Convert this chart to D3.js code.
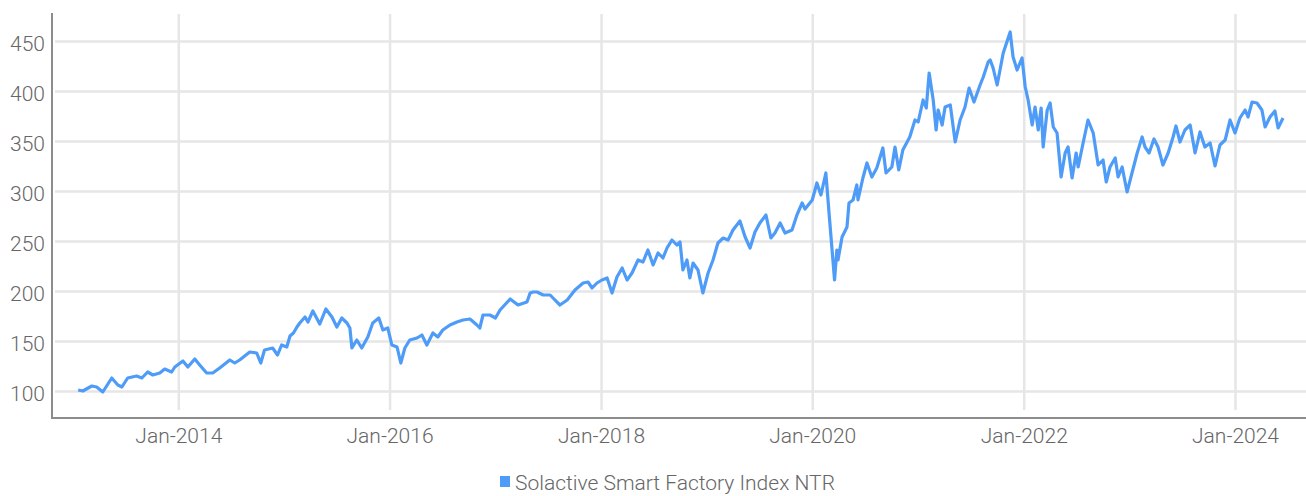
<!DOCTYPE html>
<html>
<head>
<meta charset="utf-8">
<script src="https://cdn.jsdelivr.net/npm/d3@7"></script>
<style>
  body { margin: 0; background: #fff; }
  text { font-family: Roboto, sans-serif; font-weight: 300; fill: #666; }
</style>
</head>
<body>
<div id="chart"></div>
<script>
const seriesName = 'Solactive Smart Factory Index NTR';
const yTicks = [100, 150, 200, 250, 300, 350, 400, 450];
const xTickYears = [2014, 2016, 2018, 2020, 2022, 2024];

const dates = [
  '2013-01-20','2013-02-05','2013-03-08','2013-03-25','2013-04-15','2013-05-16','2013-06-06','2013-06-20',
  '2013-07-10','2013-08-10','2013-08-28','2013-09-17','2013-10-05','2013-10-29','2013-11-15','2013-12-09','2013-12-20',
  '2014-01-17','2014-02-03','2014-02-27','2014-03-16','2014-04-09','2014-04-30','2014-05-24','2014-06-28',
  '2014-07-15','2014-08-01','2014-09-05','2014-09-29','2014-10-13','2014-10-26','2014-11-23','2014-12-10','2014-12-24',
  '2015-01-11','2015-01-22','2015-02-03','2015-02-15','2015-02-25','2015-03-15','2015-03-25','2015-04-11','2015-05-05',
  '2015-05-26','2015-06-16','2015-07-03','2015-07-20','2015-08-07','2015-08-17','2015-08-24','2015-09-10','2015-09-27',
  '2015-10-18','2015-11-04','2015-11-25','2015-12-09','2015-12-26',
  '2016-01-09','2016-01-27','2016-02-09','2016-02-23','2016-03-11','2016-04-05','2016-04-22','2016-05-09','2016-05-30',
  '2016-06-16','2016-07-03','2016-07-28','2016-08-21','2016-09-11','2016-10-05','2016-10-29','2016-11-08','2016-11-19','2016-12-13',
  '2017-01-01','2017-01-17','2017-02-21','2017-03-20','2017-04-20','2017-05-01','2017-05-11','2017-05-25','2017-06-15',
  '2017-07-09','2017-07-19','2017-08-12','2017-09-06','2017-10-03','2017-10-31','2017-11-17','2017-12-01','2017-12-18',
  '2018-01-04','2018-01-22','2018-02-08','2018-02-25','2018-03-15','2018-04-01','2018-04-18','2018-05-09','2018-05-26',
  '2018-06-12','2018-06-30','2018-07-17','2018-08-03','2018-08-17','2018-09-03','2018-09-20','2018-10-01','2018-10-11',
  '2018-10-25','2018-11-04','2018-11-15','2018-12-02','2018-12-19',
  '2019-01-06','2019-01-23','2019-02-09','2019-02-27','2019-03-16','2019-04-02','2019-04-26','2019-05-14','2019-05-31',
  '2019-06-17','2019-07-04','2019-07-25','2019-08-11','2019-08-25','2019-09-12','2019-09-29','2019-10-23','2019-11-09',
  '2019-11-27','2019-12-07',
  '2020-01-01','2020-01-17','2020-01-31','2020-02-17','2020-02-28','2020-03-18','2020-03-26','2020-03-30','2020-04-13',
  '2020-04-30','2020-05-07','2020-05-21','2020-06-03','2020-06-07','2020-06-24','2020-07-08','2020-07-25','2020-08-11',
  '2020-09-01','2020-09-12','2020-10-02','2020-10-13','2020-10-26','2020-11-09','2020-12-03','2020-12-21',
  '2021-01-01','2021-01-18','2021-01-29','2021-02-08','2021-02-22','2021-03-04','2021-03-11','2021-03-25','2021-04-04',
  '2021-04-22','2021-05-09','2021-05-26','2021-06-12','2021-06-26','2021-07-13','2021-08-03','2021-08-14','2021-08-31',
  '2021-09-07','2021-09-17','2021-10-01','2021-10-22','2021-11-15','2021-11-25','2021-12-09','2021-12-26',
  '2022-01-06','2022-01-16','2022-01-30','2022-02-09','2022-02-20','2022-03-02','2022-03-09','2022-03-23','2022-04-02',
  '2022-04-13','2022-04-26','2022-05-10','2022-05-24','2022-06-03','2022-06-17','2022-07-01','2022-07-08','2022-07-25',
  '2022-08-11','2022-08-29','2022-09-15','2022-10-02','2022-10-13','2022-10-26','2022-11-13','2022-11-23','2022-12-07','2022-12-24',
  '2023-01-10','2023-01-28','2023-02-14','2023-02-24','2023-03-10','2023-03-27','2023-04-10','2023-04-27','2023-05-15',
  '2023-06-01','2023-06-11','2023-06-25','2023-07-12','2023-07-30','2023-08-16','2023-09-02','2023-09-19','2023-10-07',
  '2023-10-24','2023-11-10','2023-11-28','2023-12-15',
  '2024-01-01','2024-01-18','2024-02-05','2024-02-15','2024-02-29','2024-03-17','2024-04-03','2024-04-14','2024-05-01',
  '2024-05-18','2024-05-29','2024-06-15'
];

const values = [
  101,100,105,104,99,113,106,104,
  113,115,113,119,116,118,122,119,124,
  130,124,132,126,118,118,123,131,
  128,131,139,138,128,141,143,136,146,
  144,155,158,164,168,174,169,180,167,
  182,174,164,173,168,163,143,151,143,
  154,168,173,161,163,
  146,144,128,143,151,153,156,146,158,
  154,161,166,169,171,172,166,163,176,176,
  173,181,192,186,189,198,199,199,196,
  196,193,186,191,201,208,209,203,208,
  211,213,198,214,223,211,218,231,229,
  241,226,238,233,243,251,246,249,221,
  231,213,228,221,198,
  218,231,248,253,251,261,270,254,243,
  259,268,276,253,258,268,258,261,276,
  288,282,
  291,308,296,318,278,211,241,231,254,
  264,288,291,306,291,313,328,314,323,
  343,318,324,344,321,341,354,371,
  369,391,383,418,391,361,381,366,384,
  386,349,371,384,403,389,406,414,429,
  431,423,406,438,459,434,421,433,
  404,391,366,384,361,383,344,381,388,
  364,358,314,338,344,313,338,324,348,
  371,358,326,331,309,324,333,314,324,299,
  318,338,354,344,338,352,344,326,338,
  354,365,349,361,366,338,359,344,348,
  325,346,351,371,
  358,373,381,374,389,388,381,364,374,
  380,363,373
];

const W = 1306, H = 496;
const parse = d3.timeParse('%Y-%m-%d');
const data = dates.map((d, i) => ({ date: parse(d), value: values[i] }));

const svg = d3.select('#chart').append('svg')
  .attr('width', W)
  .attr('height', H);

const x = d3.scaleTime()
  .domain([new Date(2014, 0, 1), new Date(2024, 0, 1)])
  .range([178.3, 1235]);

const y = d3.scaleLinear()
  .domain([100, 450])
  .range([391, 41]);

const xTicks = xTickYears.map(yr => new Date(yr, 0, 1));

// horizontal grid
svg.append('g')
  .attr('class', 'grid')
  .attr('transform', 'translate(55,0)')
  .call(d3.axisLeft(y).tickValues(yTicks).tickSize(-(W - 55)).tickFormat(''))
  .call(g => g.select('.domain').remove())
  .call(g => g.selectAll('line').attr('stroke', '#e6e6e6').attr('stroke-width', 2.5));

// vertical grid
svg.append('g')
  .attr('class', 'grid')
  .attr('transform', 'translate(0,410)')
  .call(d3.axisTop(x).tickValues(xTicks).tickSize(396).tickFormat(''))
  .call(g => g.select('.domain').remove())
  .call(g => g.selectAll('line').attr('stroke', '#e6e6e6').attr('stroke-width', 2.5));

// axis lines
svg.append('line')
  .attr('x1', 52).attr('x2', 52).attr('y1', 13).attr('y2', 419)
  .attr('stroke', '#8c8c8c').attr('stroke-width', 2);
svg.append('line')
  .attr('x1', 51).attr('x2', W).attr('y1', 418).attr('y2', 418)
  .attr('stroke', '#8c8c8c').attr('stroke-width', 2);

// y labels
svg.append('g')
  .attr('transform', 'translate(45,3)')
  .call(d3.axisLeft(y).tickValues(yTicks).tickSize(0).tickPadding(0))
  .call(g => g.select('.domain').remove())
  .call(g => g.selectAll('text')
    .attr('fill', '#666')
    .style('font-family', 'Roboto, sans-serif')
    .style('font-weight', 300)
    .style('font-size', '21px'));

// x labels
svg.append('g')
  .attr('transform', 'translate(0,428)')
  .call(d3.axisBottom(x).tickValues(xTicks).tickSize(0).tickPadding(0).tickFormat(d3.timeFormat('%b-%Y')))
  .call(g => g.select('.domain').remove())
  .call(g => g.selectAll('text')
    .attr('fill', '#666')
    .style('font-family', 'Roboto, sans-serif')
    .style('font-weight', 300)
    .style('font-size', '21px'));

// series line
const line = d3.line()
  .x(d => x(d.date))
  .y(d => y(d.value));

svg.append('path')
  .datum(data)
  .attr('fill', 'none')
  .attr('stroke', '#4e9cf7')
  .attr('stroke-width', 3.2)
  .attr('stroke-linejoin', 'round')
  .attr('d', line);

// legend
const legend = svg.append('g').attr('transform', 'translate(500,476)');
legend.append('rect')
  .attr('width', 10).attr('height', 11)
  .attr('fill', '#4e9cf7');
legend.append('text')
  .attr('x', 15).attr('y', 14)
  .style('font-size', '21px')
  .text(seriesName);
</script>
</body>
</html>
